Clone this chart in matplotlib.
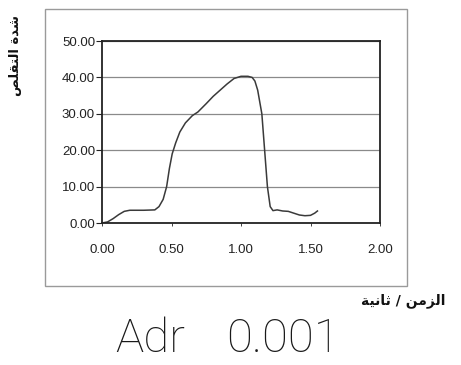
import matplotlib
matplotlib.use("Agg")
import matplotlib.pyplot as plt
from matplotlib.patches import Rectangle

# contraction trace: time (s) vs force
time_s = [0.00, 0.04, 0.08, 0.12, 0.16, 0.20, 0.30, 0.38, 0.41, 0.44, 0.465,
          0.485, 0.505, 0.53, 0.56, 0.60, 0.65, 0.69, 0.75, 0.80, 0.85, 0.90,
          0.95, 1.00, 1.05, 1.08, 1.10, 1.12, 1.15, 1.17, 1.19, 1.21, 1.23,
          1.26, 1.30, 1.34, 1.38, 1.42, 1.46, 1.50, 1.53, 1.55]
force = [0.0, 0.3, 1.2, 2.3, 3.2, 3.5, 3.5, 3.6, 4.5, 6.5, 10.0,
         15.0, 19.0, 22.0, 25.0, 27.5, 29.5, 30.5, 32.8, 34.8, 36.5, 38.2,
         39.7, 40.3, 40.3, 40.0, 39.0, 36.5, 30.0, 20.0, 10.0, 4.5, 3.4,
         3.6, 3.3, 3.2, 2.7, 2.2, 2.0, 2.1, 2.7, 3.3]

x_ticks = [0.0, 0.5, 1.0, 1.5, 2.0]
y_ticks = [0, 10, 20, 30, 40, 50]

# Arabic labels in presentation forms, visual (left-to-right) order
x_label = "\uFE94\uFEF4\uFEE7\uFE8E\uFE9B / \uFEE6\uFEE3\uFEB0\uFEDF\uFE8D"
y_label = "\uFEBA\uFEE0\uFED8\uFE98\uFEDF\uFE8D \uFE93\uFEAA\uFEB7"
drug = "Adr"
dose = "0.001"

W, H = 461, 365
fig = plt.figure(figsize=(W / 100, H / 100), dpi=100)
fig.patch.set_facecolor("white")

def fx(px):
    return px / W

def fy(py):
    return 1 - py / H

# outer chart border
fig.patches.append(Rectangle((fx(45), fy(286)), fx(407) - fx(45), fy(9) - fy(286),
                             transform=fig.transFigure, fill=False,
                             edgecolor="#9a9a9a", linewidth=1.0))

ax = fig.add_axes([fx(102), fy(223), fx(380) - fx(102), fy(41) - fy(223)])
ax.plot(time_s, force, color="#3a3a3a", linewidth=1.1)

ax.set_xlim(0, 2)
ax.set_ylim(0, 50)
ax.set_xticks(x_ticks)
ax.set_yticks(y_ticks)
ax.set_xticklabels([f"{v:.2f}" for v in x_ticks])
ax.set_yticklabels([f"{v:.2f}" for v in y_ticks])
ax.yaxis.grid(True, color="#8a8a8a", linewidth=0.9)
ax.set_axisbelow(True)
for s in ax.spines.values():
    s.set_color("#222222")
    s.set_linewidth(1.3)

ax.tick_params(axis="y", direction="out", length=4, width=0.8, pad=1,
               labelsize=9.5, colors="#222222")
ax.tick_params(axis="x", direction="out", length=2, width=0.6, pad=13,
               labelsize=9.5, colors="#222222")
for lab in ax.get_xticklabels() + ax.get_yticklabels():
    lab.set_family(["Liberation Sans", "DejaVu Sans"])

fig.text(fx(403), fy(301), x_label, ha="center", va="center",
         fontsize=10, fontweight="bold", family="DejaVu Sans", color="#111111")
fig.text(fx(15), fy(55), y_label, ha="center", va="center", rotation=90,
         fontsize=9.5, fontweight="bold", family="DejaVu Sans", color="#111111")

cap_font = dict(fontsize=34, fontweight="light", family=["Roboto", "DejaVu Sans"],
                color="#1a1a1a", va="baseline")
fig.text(fx(150), fy(352), drug, ha="center", **cap_font)
fig.text(fx(283), fy(352), dose, ha="center", **cap_font)

fig.savefig("out.png", dpi=100, facecolor="white")
